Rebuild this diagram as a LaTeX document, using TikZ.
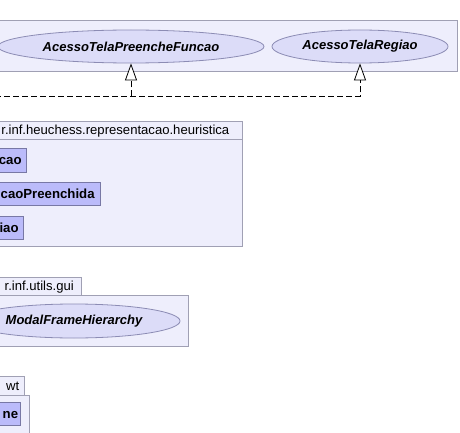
\documentclass[tikz,border=0pt]{standalone}
\usepackage{fontspec}
\setmainfont{Liberation Sans}
\usetikzlibrary{shapes.geometric,arrows.meta}
\definecolor{pkgfill}{RGB}{238,238,252}
\definecolor{pkgline}{RGB}{160,160,180}
\definecolor{ellfill}{RGB}{220,220,248}
\definecolor{ellline}{RGB}{140,140,180}
\definecolor{clsfill}{RGB}{187,187,250}
\definecolor{clsline}{RGB}{120,120,165}
\begin{document}
\begin{tikzpicture}[x=1pt,y=1pt,
  pkg/.style={draw=pkgline,fill=pkgfill,line width=0.8pt},
  iface/.style={ellipse,draw=ellline,fill=ellfill,line width=0.8pt,inner sep=0pt,
    font=\fontsize{13}{15}\selectfont\bfseries\itshape},
  cls/.style={draw=clsline,fill=clsfill,line width=0.8pt},
  clstext/.style={inner sep=0pt,anchor=base east,font=\fontsize{13.2}{15}\selectfont\bfseries},
  pkglabel/.style={inner sep=0pt,anchor=base east,font=\fontsize{13.1}{15}\selectfont},
  dep/.style={dash pattern=on 6pt off 3pt,line width=0.8pt,black},
  realize/.style={-{Triangle[fill=white,length=17pt,width=12pt,line width=0.8pt]}}]
\useasboundingbox (0,0) rectangle (460,-433);
\clip (0,0) rectangle (460,-433);
\fill[white] (0,0) rectangle (460,-433);

% top package
\path[pkg] (-5,-20) rectangle (457,-71);
\node[iface,minimum width=266,minimum height=33] (e1) at (131,-46.5) {AcessoTelaPreencheFuncao};
\node[iface,minimum width=176,minimum height=33] (e2) at (360,-46.5) {AcessoTelaRegiao};

% realizations
\coordinate (L) at (-5,-96.5);
\coordinate (j1) at (131,-96.5);
\draw[dep,realize] (L) -| (e2.south);
\draw[dep,realize] (j1) -- (e1.south);

% package heuristica
\path[pkg] (-5,-121) rectangle (242,-139);
\path[pkg] (-5,-139) rectangle (242,-246);
\node[pkglabel] (p2) at (229.5,-134.5) {r.inf.heuchess.representacao.heuristica};
\path[cls] (-5,-148) rectangle (26,-172);
\node[clstext] (c1) at (21.8,-164.7) {cao};
\path[cls] (-5,-182) rectangle (100.7,-205);
\node[clstext] (c2) at (94.8,-198.2) {caoPreenchida};
\path[cls] (-5,-216) rectangle (23.7,-239);
\node[clstext] (c3) at (18.8,-232.2) {iao};

% package gui
\path[pkg] (-5,-277) rectangle (81,-295);
\path[pkg] (-5,-295) rectangle (188.5,-346);
\node[pkglabel] (p3) at (74,-290.5) {r.inf.utils.gui};
\node[iface,minimum width=212,minimum height=34] (e3) at (74,-321) {ModalFrameHierarchy};

% package awt
\path[pkg] (-5,-376.5) rectangle (24.5,-395);
\path[pkg] (-5,-395) rectangle (29,-440);
\node[pkglabel] (p4) at (19.5,-390) {wt};
\path[cls] (-5,-402) rectangle (20.7,-425);
\node[clstext] (c4) at (18.3,-418.2) {ne};
\end{tikzpicture}
\end{document}
